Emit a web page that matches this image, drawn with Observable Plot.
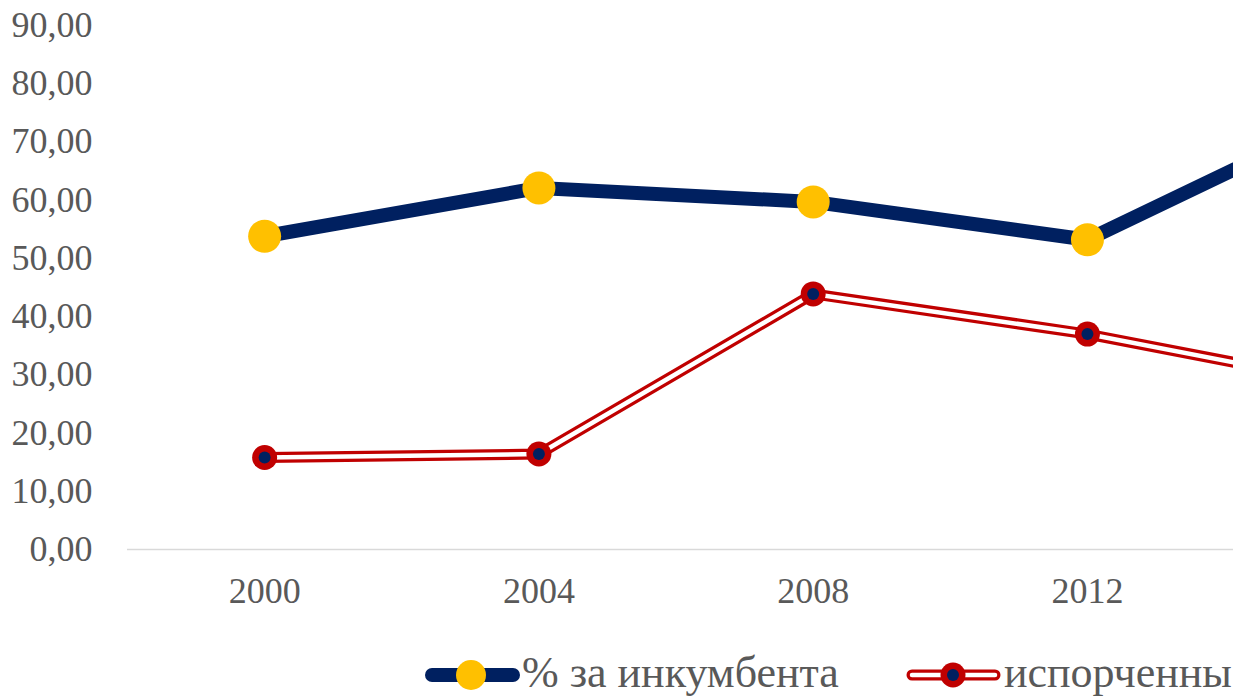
<!DOCTYPE html>
<html>
<head>
<meta charset="utf-8">
<script src="https://cdn.jsdelivr.net/npm/d3@7"></script>
<script src="https://cdn.jsdelivr.net/npm/@observablehq/plot@0.6"></script>
<style>
  html, body { margin: 0; padding: 0; background: #fff; }
  #wrap { width: 1251px; height: 698px; overflow: hidden; position: relative; }
  #legend { display: block; }
</style>
</head>
<body>
<div id="wrap"></div>
<script>
const years = [2000, 2004, 2008, 2012, 2016];
const incumbent = [53.8, 62.1, 59.7, 53.2, 75.8];
const spoiled = [15.8, 16.4, 43.9, 37.0, 27.9];
const yTicks = [0, 10, 20, 30, 40, 50, 60, 70, 80, 90];
const xTicks = [2000, 2004, 2008, 2012];
const seriesNames = ["% за инкумбента", "испорченны"];

const data = years.map((y, i) => ({year: y, inc: incumbent[i], sp: spoiled[i]}));

const navy = "#002060", yellow = "#FFC000", red = "#C00000";

const chart = Plot.plot({
  width: 1251,
  height: 635,
  marginLeft: 127,
  marginRight: 18,
  marginTop: 25,
  marginBottom: 86,
  style: {fontFamily: "Liberation Serif", fontSize: "36px", color: "#595959", background: "white", overflow: "visible"},
  x: {type: "linear", domain: [1998, 2014.13], ticks: xTicks, tickFormat: d => String(d), tickSize: 0, tickPadding: 28, label: null},
  y: {domain: [0, 90], ticks: yTicks, tickFormat: d => d.toFixed(2).replace(".", ","), tickSize: 0, tickPadding: 35, label: null},
  marks: [
    Plot.ruleY([0], {stroke: "#d9d9d9", strokeWidth: 1.5}),
    Plot.line(data, {x: "year", y: "inc", stroke: navy, strokeWidth: 14, clip: true}),
    Plot.dot(data, {x: "year", y: "inc", r: 16.5, fill: yellow, clip: true}),
    Plot.line(data, {x: "year", y: "sp", stroke: red, strokeWidth: 11, clip: true}),
    Plot.line(data, {x: "year", y: "sp", stroke: "white", strokeWidth: 4.5, clip: true}),
    Plot.dot(data, {x: "year", y: "sp", r: 12.5, fill: red, clip: true}),
    Plot.dot(data, {x: "year", y: "sp", r: 6, fill: navy, clip: true})
  ]
});

const wrap = document.getElementById("wrap");
wrap.appendChild(chart);

// legend below the chart
const ns = "http://www.w3.org/2000/svg";
const lg = document.createElementNS(ns, "svg");
lg.setAttribute("id", "legend");
lg.setAttribute("width", 1234);
lg.setAttribute("height", 63);
lg.style.overflow = "hidden";
function el(tag, attrs) {
  const e = document.createElementNS(ns, tag);
  for (const k in attrs) e.setAttribute(k, attrs[k]);
  lg.appendChild(e);
  return e;
}
const cy = 40;
// series 1 swatch
el("line", {x1: 432, x2: 513, y1: cy, y2: cy, stroke: navy, "stroke-width": 14, "stroke-linecap": "round"});
el("circle", {cx: 471, cy: cy, r: 15, fill: yellow});
let t1 = el("text", {x: 522, y: 52, "font-family": "Liberation Serif", "font-size": 44, fill: "#595959"});
t1.textContent = seriesNames[0];
// series 2 swatch
el("line", {x1: 912, x2: 995, y1: cy, y2: cy, stroke: red, "stroke-width": 11, "stroke-linecap": "round"});
el("line", {x1: 912, x2: 995, y1: cy, y2: cy, stroke: "white", "stroke-width": 4.5, "stroke-linecap": "round"});
el("circle", {cx: 953, cy: cy, r: 12.5, fill: red});
el("circle", {cx: 953, cy: cy, r: 6, fill: navy});
let t2 = el("text", {x: 1004, y: 52, "font-family": "Liberation Serif", "font-size": 44, fill: "#595959"});
t2.textContent = seriesNames[1];
wrap.appendChild(lg);
</script>
</body>
</html>
